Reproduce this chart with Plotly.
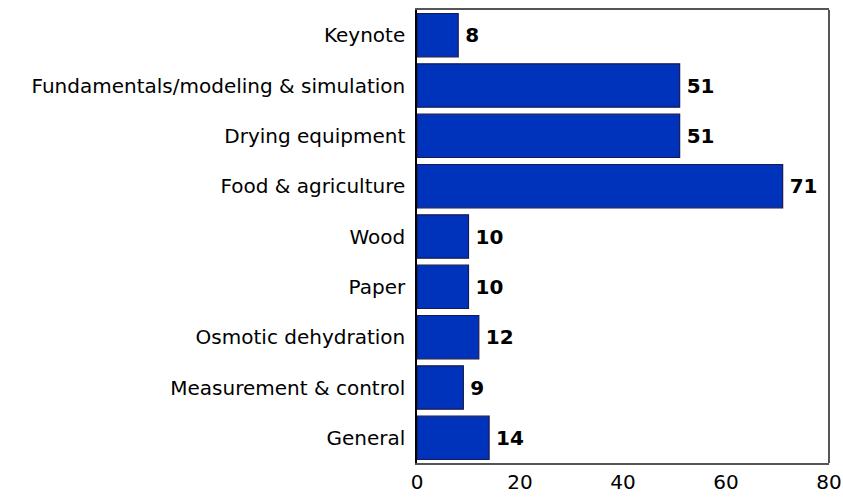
import plotly.graph_objects as go

categories = ["Keynote", "Fundamentals/modeling & simulation", "Drying equipment",
              "Food & agriculture", "Wood", "Paper", "Osmotic dehydration",
              "Measurement & control", "General"]
values = [8, 51, 51, 71, 10, 10, 12, 9, 14]
x_ticks = [0, 20, 40, 60, 80]

FONT = "DejaVu Sans"

fig = go.Figure(go.Bar(
    y=categories, x=values, orientation="h",
    marker=dict(color="#0033BB", line=dict(color="#1A1A50", width=1.2)),
    text=["\u2009" + str(v) for v in values], textposition="outside",
    textfont=dict(family=FONT, size=20, color="black", weight="bold"),
    cliponaxis=False,
))

fig.update_layout(
    width=843, height=500,
    margin=dict(l=417, r=14, t=10, b=37),
    plot_bgcolor="white", paper_bgcolor="white",
    bargap=0.14,
    showlegend=False,
    font=dict(family=FONT, size=20, color="black"),
)
fig.update_xaxes(range=[0, 80], tickvals=x_ticks, showgrid=False, zeroline=False,
                 showline=True, linecolor="#555555", linewidth=2, mirror=True,
                 ticks="", tickfont=dict(size=20), automargin=False)
fig.update_yaxes(categoryorder="array", categoryarray=categories[::-1],
                 showgrid=False, zeroline=False, showline=True, linecolor="black",
                 linewidth=1.5, ticks="", ticklabelstandoff=6, automargin=False)
fig.add_shape(type="line", xref="paper", yref="paper", x0=1, x1=1, y0=0, y1=1,
              line=dict(color="#555555", width=2))

fig.write_html("out.html", config={"displayModeBar": False},
               post_script="document.body.style.margin='0';document.body.style.overflow='hidden';")
